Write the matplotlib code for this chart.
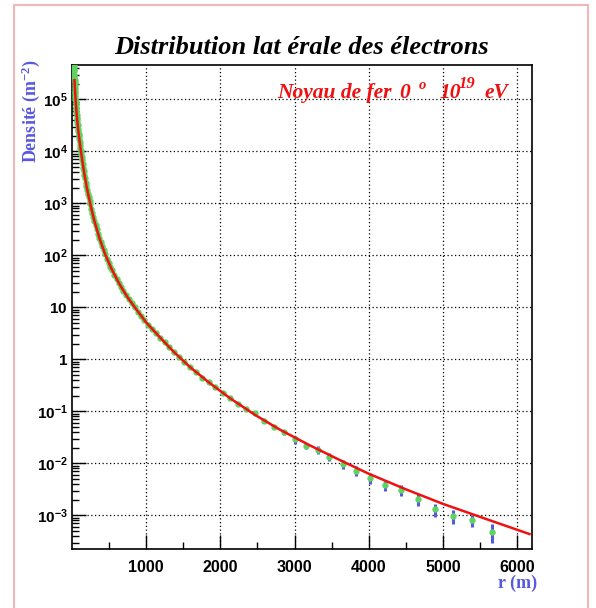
import numpy as np
import matplotlib.pyplot as plt
from matplotlib.patches import Rectangle

plt.rcParams['mathtext.fontset'] = 'custom'
plt.rcParams['mathtext.rm'] = 'Liberation Sans:bold'
plt.rcParams['mathtext.it'] = 'Liberation Serif:italic:bold'
plt.rcParams['mathtext.bf'] = 'Liberation Serif:bold'

# densite des electrons, bins serres pres du coeur (log10 de la densite en m^-2)
r_core = [20, 21, 22, 23, 24, 25, 26, 28, 29, 31, 32, 34, 35, 37, 39, 41, 43, 45, 47, 50,
          52, 55, 58, 60, 64, 67, 70, 74, 77, 81, 85, 89, 94, 99, 103, 109, 114, 120, 126, 132,
          139, 146, 153, 160, 168, 177, 186, 195, 205, 215, 226, 237, 249, 261, 274, 288, 303, 318, 334, 350,
          368, 386, 406, 426, 447, 470, 493, 518, 544, 571, 600, 630, 661, 694, 729, 765, 803, 844, 886, 930,
          977, 1025, 1077, 1131, 1187, 1247, 1309, 1375, 1444, 1516, 1592, 1671, 1755, 1842, 1934, 2031, 2133, 2239, 2351]
logrho_core = [5.96, 5.90, 5.85, 5.80, 5.75, 5.69, 5.64, 5.59, 5.54, 5.48, 5.43, 5.38, 5.33, 5.27, 5.22, 5.17, 5.12, 5.07, 5.01, 4.96,
               4.91, 4.86, 4.81, 4.75, 4.70, 4.65, 4.60, 4.55, 4.50, 4.44, 4.39, 4.34, 4.29, 4.24, 4.18, 4.13, 4.07, 4.01, 3.96, 3.90,
               3.83, 3.76, 3.69, 3.62, 3.55, 3.48, 3.40, 3.33, 3.26, 3.19, 3.12, 3.05, 2.98, 2.90, 2.82, 2.74, 2.66, 2.58, 2.50, 2.42,
               2.34, 2.26, 2.18, 2.10, 2.02, 1.94, 1.86, 1.78, 1.71, 1.63, 1.55, 1.47, 1.39, 1.32, 1.24, 1.16, 1.08, 1.00, 0.92, 0.84,
               0.76, 0.67, 0.59, 0.51, 0.42, 0.33, 0.23, 0.14, 0.04, -0.06, -0.15, -0.25, -0.35, -0.44, -0.54, -0.64, -0.75, -0.86, -0.96]

# bins lointains avec erreur relative
r_tail = [2469, 2594, 2725, 2860, 2999, 3152, 3314, 3466, 3651, 3830, 4019, 4221, 4437, 4666, 4895, 5137, 5394, 5663]
logrho_tail = [-1.04, -1.18, -1.30, -1.40, -1.54, -1.67, -1.74, -1.87, -2.02, -2.14, -2.28, -2.42, -2.51, -2.69, -2.88, -3.01, -3.09, -3.32]
relerr_tail = [0.05, 0.08, 0.08, 0.10, 0.18, 0.12, 0.17, 0.17, 0.19, 0.21, 0.22, 0.22, 0.24, 0.25, 0.28, 0.30, 0.27, 0.40]

# ajustement
r_fit = [34, 40, 50, 60, 70, 85, 101, 120, 140, 165, 200, 245, 300, 370, 447, 530, 630, 750, 852, 1000,
         1187, 1375, 1592, 1842, 2133, 2469, 2800, 3200, 3600, 4000, 4500, 5000, 5600, 6166]
logrho_fit = [5.37, 5.19, 4.96, 4.76, 4.60, 4.39, 4.21, 4.01, 3.81, 3.58, 3.30, 3.00, 2.67, 2.33, 2.02, 1.75, 1.47, 1.19, 0.99, 0.71,
              0.42, 0.14, -0.15, -0.44, -0.75, -1.07, -1.35, -1.65, -1.93, -2.20, -2.50, -2.78, -3.08, -3.36]

ytick_vals = [1e-3, 1e-2, 1e-1, 1, 10, 1e2, 1e3, 1e4, 1e5]
ytick_labels = [r'$\mathrm{10^{-3}}$', r'$\mathrm{10^{-2}}$', r'$\mathrm{10^{-1}}$', r'$\mathrm{1}$', r'$\mathrm{10}$',
                r'$\mathrm{10^{2}}$', r'$\mathrm{10^{3}}$', r'$\mathrm{10^{4}}$', r'$\mathrm{10^{5}}$']
xtick_vals = [1000, 2000, 3000, 4000, 5000, 6000]

rho_core = 10 ** np.array(logrho_core)
rho_tail = 10 ** np.array(logrho_tail)
rho_fit = 10 ** np.array(logrho_fit)
err_tail = np.array(relerr_tail) * rho_tail

W, H = 596, 608
fig = plt.figure(figsize=(W / 100, H / 100), dpi=100)
fig.add_artist(Rectangle((14 / W, -0.1), 574 / W, 1.1 - 5 / H, transform=fig.transFigure,
                         fill=False, edgecolor='#f2b8b8', lw=1.5))
ax = fig.add_axes([72 / W, 1 - 549 / H, 460 / W, 484 / H])

blue = '#5858e0'
green = '#5fd35f'
red = '#f01010'
ax.errorbar(r_tail, rho_tail, yerr=err_tail, fmt='none', ecolor=blue, elinewidth=2.2, capsize=0, zorder=3)
ax.plot(r_core + r_tail, np.concatenate([rho_core, rho_tail]), 'o', color=green, ms=4.6, mec='none', zorder=4)
ax.plot(r_fit, rho_fit, '-', color=red, lw=1.8, zorder=5)

ax.set_yscale('log')
ax.set_xlim(0, 6200)
ax.set_ylim(2.25e-4, 4.6e5)
ax.set_xticks(xtick_vals)
ax.set_xticks(np.arange(500, 6200, 1000), minor=True)
ax.set_xticklabels([str(v) for v in xtick_vals], family='Liberation Sans', weight='bold', fontsize=11.5)
ax.set_yticks(ytick_vals)
ax.set_yticklabels(ytick_labels, fontsize=11)
ax.yaxis.set_minor_locator(plt.LogLocator(base=10, subs=np.arange(2, 10), numticks=20))
ax.yaxis.set_minor_formatter(plt.NullFormatter())
ax.tick_params(which='major', direction='in', length=10, width=1, pad=3)
ax.tick_params(which='minor', direction='in', length=5, width=1)
ax.tick_params(axis='x', which='major', pad=8)
ax.grid(True, which='major', color='black', linestyle=(0, (1, 2)), lw=0.9)
for s in ax.spines.values():
    s.set_linewidth(1.2)

serif_bi = dict(family='Liberation Serif', weight='bold', style='italic')
fig.text(301 / W, 1 - 54 / H, 'Distribution lat érale des électrons', ha='center', va='baseline',
         fontsize=19, **serif_bi)

# texte en rouge : noyau, angle, energie
fig.text(277 / W, 1 - 98 / H, 'Noyau de fer', ha='left', va='baseline', color=red, fontsize=15.5, **serif_bi)
fig.text(399 / W, 1 - 98 / H, '0', ha='left', va='baseline', color=red, fontsize=15.5, **serif_bi)
fig.text(419 / W, 1 - 89 / H, 'o', ha='left', va='baseline', color=red, fontsize=10.5, **serif_bi)
fig.text(439 / W, 1 - 98 / H, '10', ha='left', va='baseline', color=red, fontsize=15.5, **serif_bi)
fig.text(459 / W, 1 - 88 / H, '19', ha='left', va='baseline', color=red, fontsize=12, **serif_bi)
fig.text(484 / W, 1 - 98 / H, 'eV', ha='left', va='baseline', color=red, fontsize=15.5, **serif_bi)

fig.text(31 / W, 1 - 59 / H, r'Densité (m$^{\mathbf{-2}}$)', rotation=90, ha='center', va='top',
         family='Liberation Serif', weight='bold', fontsize=13, color=blue)
fig.text(537 / W, 1 - 588 / H, 'r (m)', ha='right', va='baseline',
         family='Liberation Serif', weight='bold', fontsize=13, color=blue)

fig.savefig('out.png', dpi=100)
